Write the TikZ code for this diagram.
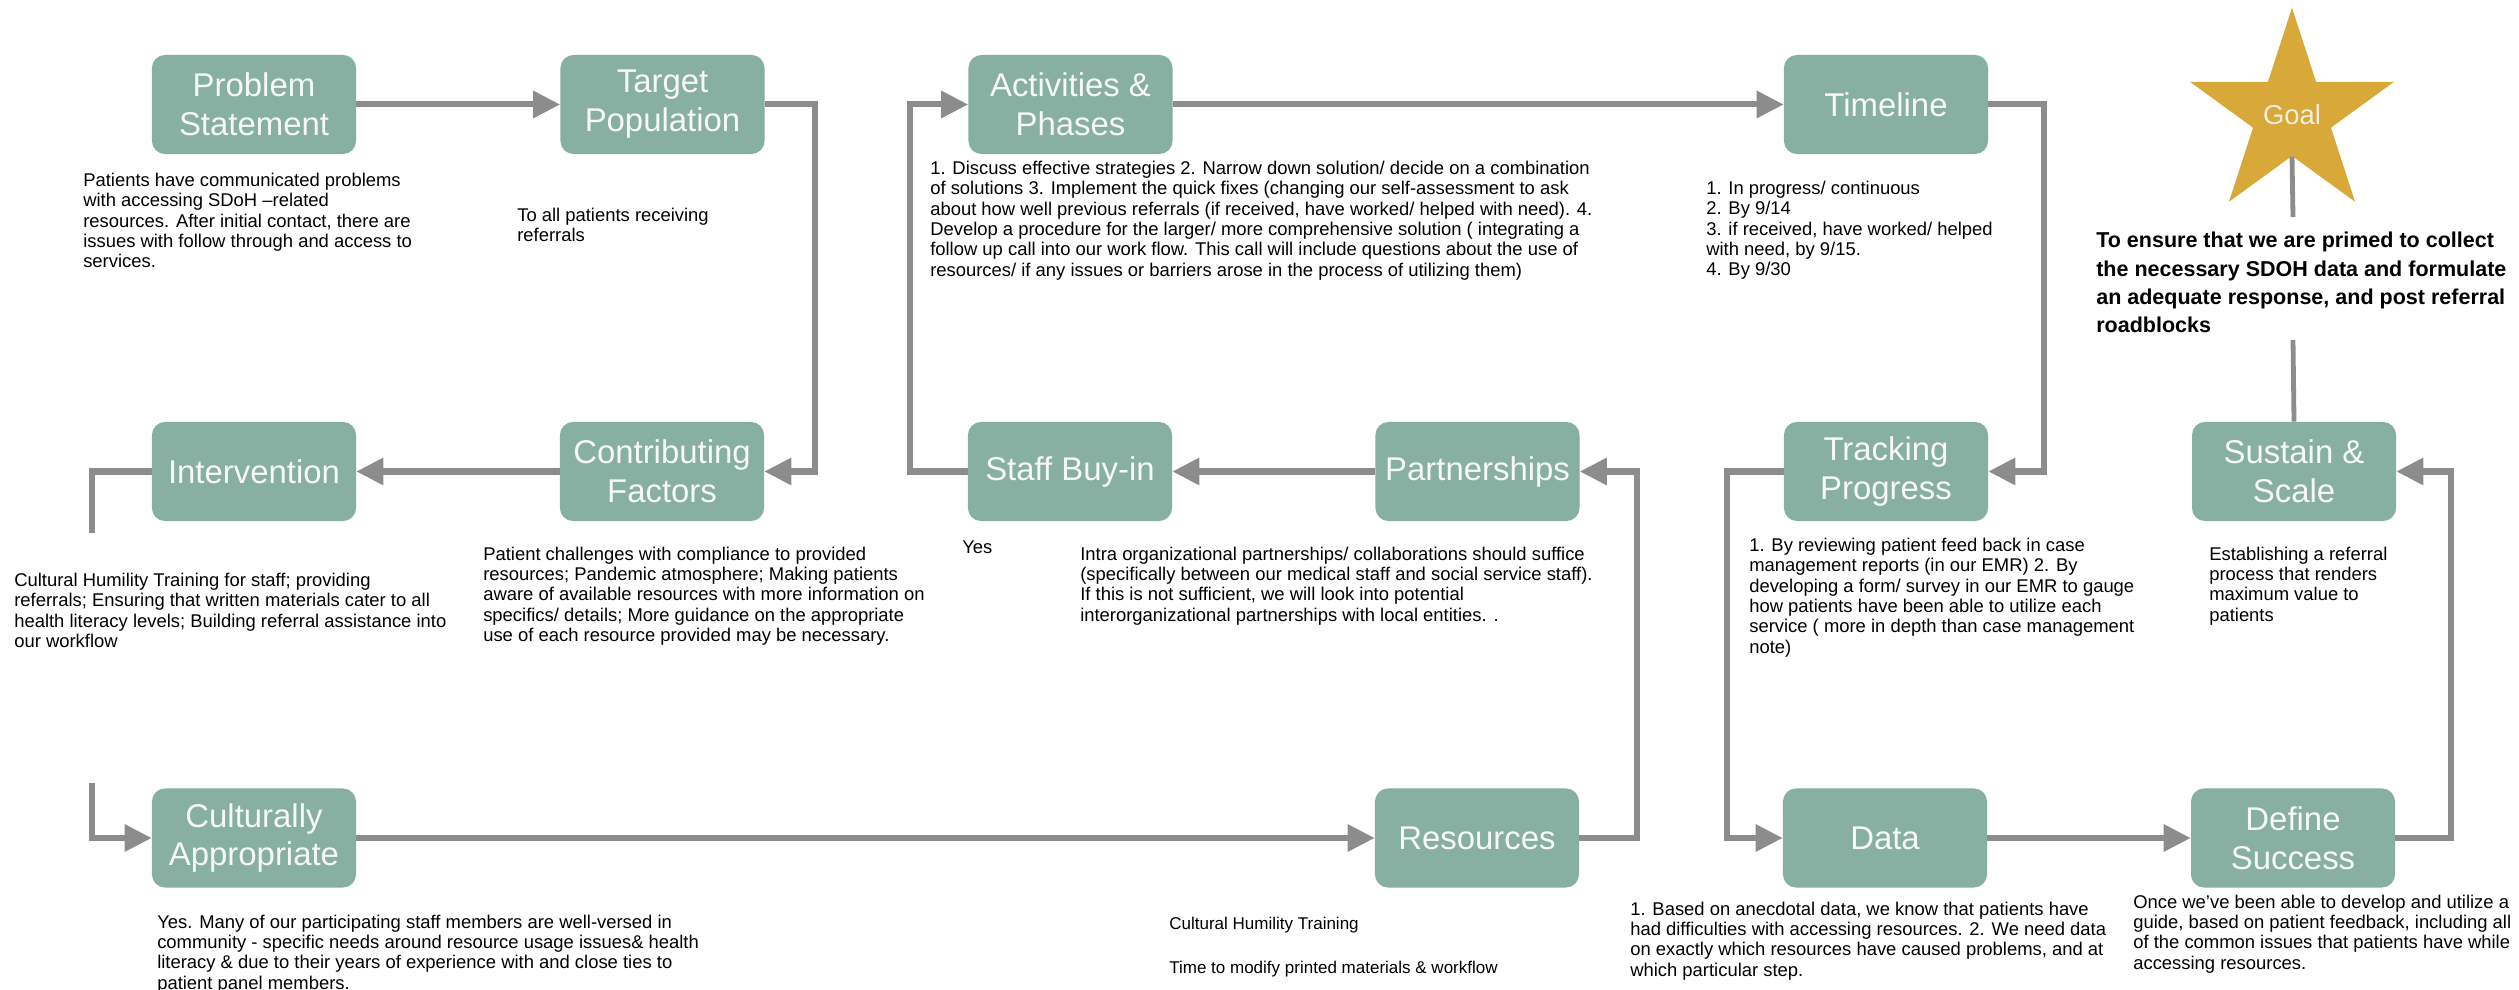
\documentclass[tikz,border=0pt]{standalone}
\usepackage{fontspec}
\setmainfont{Liberation Sans}
\usetikzlibrary{arrows.meta,shapes.geometric}
\definecolor{boxteal}{HTML}{87AFA2}
\definecolor{flowgray}{HTML}{8C8C8C}
\definecolor{goalgold}{HTML}{D8A838}
\definecolor{titlewhite}{HTML}{F5F8F6}
\definecolor{goalwhite}{HTML}{F4EEDC}
\newcommand\bodysize{\fontsize{13.1pt}{14.44pt}\selectfont}
\newcommand\titlesize{\fontsize{23.4pt}{27.7pt}\selectfont}
\newcommand\goalsize{\fontsize{15.3pt}{20.1pt}\selectfont\bfseries}
\newcommand\notesize{\fontsize{12.1pt}{14pt}\selectfont}
\newcommand\starsize{\fontsize{19.5pt}{21pt}\selectfont}

\begin{document}
\begin{tikzpicture}[x=0.025cm,y=-0.025cm,
  stepbox/.style={rectangle, rounded corners=3.25mm, fill=boxteal, text=titlewhite,
    minimum width=51mm, minimum height=24.75mm, inner sep=0pt, align=center, font=\titlesize},
  note/.style={anchor=north west, inner sep=0pt, align=left, font=\bodysize, text=black},
  line/.style={anchor=base west, inner sep=0pt, font=\notesize, text=black},
  flow/.style={draw=flowgray, line width=1.5mm, -{Triangle[length=6.75mm,width=6.5mm]}},
  link/.style={draw=flowgray, line width=1.5mm},
  stem/.style={draw=flowgray, line width=1.2mm}]

% page frame
\path[use as bounding box, fill=white] (0,0) rectangle (2519,990);

% ---- steps, top row
\node[stepbox] (ps) at (254,104.5) {Problem\\Statement};
\node[stepbox] (tp) at (662.5,104.5) {Target\\Population};
\node[stepbox] (ap) at (1070.5,104.5) {Activities \&\\Phases};
\node[stepbox] (tl) at (1886,104.5) {Timeline};

% ---- steps, middle row
\node[stepbox] (iv) at (254,471.5) {Intervention};
\node[stepbox] (cf) at (662,471.5) {Contributing\\Factors};
\node[stepbox] (sb) at (1070,471.5) {Staff Buy-in};
\node[stepbox] (pa) at (1477.5,471.5) {Partnerships};
\node[stepbox] (tr) at (1886,471.5) {Tracking\\Progress};
\node[stepbox] (ss) at (2294,471.5) {Sustain \&\\Scale};

% ---- steps, bottom row
\node[stepbox] (ca) at (254,838) {Culturally\\Appropriate};
\node[stepbox] (re) at (1477,838) {Resources};
\node[stepbox] (da) at (1885,838) {Data};
\node[stepbox] (ds) at (2293,838) {Define\\Success};

% ---- goal star
\node[star, star points=5, star point ratio=2.618, minimum size=50.5mm, inner sep=0pt,
  fill=goalgold, text=goalwhite, font=\starsize] (goal) at (2292,115) {Goal};

% ---- free ends of the broken connectors
\coordinate (ivend) at (92,533);
\coordinate (castart) at (92,783);
\coordinate (g1) at (2293,217);
\coordinate (g2) at (2293,340);

% ---- connectors
\draw[flow] (ps.east) -- (tp.west);
\draw[flow] (tp.east) -- ++(50,0) |- (cf.east);
\draw[flow] (cf.west) -- (iv.east);
\draw[link] (iv.west) -| (ivend);
\draw[flow] (castart) |- (ca.west);
\draw[flow] (ca.east) -- (re.west);
\draw[flow] (re.east) -- ++(58,0) |- (pa.east);
\draw[flow] (pa.west) -- (sb.east);
\draw[flow] (sb.west) -- ++(-58,0) |- (ap.west);
\draw[flow] (ap.east) -- (tl.west);
\draw[flow] (tl.east) -- ++(56,0) |- (tr.east);
\draw[flow] (tr.west) -- ++(-57,0) |- (da.west);
\draw[flow] (da.east) -- (ds.west);
\draw[flow] (ds.east) -- ++(56,0) |- (ss.east);
\draw[stem] (goal.south) -- (g1);
\draw[stem] (g2) -- (ss.north);

% ---- notes
\node[note] (psn) at (83,173) {Patients have communicated problems\\with accessing SDoH –related\\resources. After initial contact, there are\\issues with follow through and access to\\services.};
\node[note] (tpn) at (517,208) {To all patients receiving\\referrals};
\node[note] (apn) at (930,161) {1. Discuss effective strategies 2. Narrow down solution/ decide on a combination\\of solutions 3. Implement the quick fixes (changing our self-assessment to ask\\about how well previous referrals (if received, have worked/ helped with need). 4.\\Develop a procedure for the larger/ more comprehensive solution ( integrating a\\follow up call into our work flow. This call will include questions about the use of\\resources/ if any issues or barriers arose in the process of utilizing them)};
\node[note] (tln) at (1706,181) {1. In progress/ continuous\\2. By 9/14\\3. if received, have worked/ helped\\with need, by 9/15.\\4. By 9/30};
\node[note, font=\goalsize] (goaln) at (2096,232) {To ensure that we are primed to collect\\the necessary SDOH data and formulate\\an adequate response, and post referral\\roadblocks};
\node[note] (ivn) at (14,573) {Cultural Humility Training for staff; providing\\referrals; Ensuring that written materials cater to all\\health literacy levels; Building referral assistance into\\our workflow};
\node[note] (cfn) at (483,546.5) {Patient challenges with compliance to provided\\resources; Pandemic atmosphere; Making patients\\aware of available resources with more information on\\specifics/ details; More guidance on the appropriate\\use of each resource provided may be necessary.};
\node[line, font=\bodysize] (sbn) at (962,553) {Yes};
\node[note] (pan) at (1080,546.5) {Intra organizational partnerships/ collaborations should suffice\\(specifically between our medical staff and social service staff).\\If this is not sufficient, we will look into potential\\interorganizational partnerships with local entities. .};
\node[note] (trn) at (1749,538) {1. By reviewing patient feed back in case\\management reports (in our EMR) 2. By\\developing a form/ survey in our EMR to gauge\\how patients have been able to utilize each\\service ( more in depth than case management\\note)};
\node[note] (ssn) at (2209,546.5) {Establishing a referral\\process that renders\\maximum value to\\patients};
\node[note] (can) at (157,914.5) {Yes. Many of our participating staff members are well-versed in\\community - specific needs around resource usage issues\& health\\literacy \& due to their years of experience with and close ties to\\patient panel members.};
\node[line] (ren1) at (1169,929) {Cultural Humility Training};
\node[line] (ren2) at (1169,973) {Time to modify printed materials \& workflow};
\node[note] (dan) at (1630,901.5) {1. Based on anecdotal data, we know that patients have\\had difficulties with accessing resources. 2. We need data\\on exactly which resources have caused problems, and at\\which particular step.};
\node[note] (dsn) at (2133,894.5) {Once we've been able to develop and utilize a\\guide, based on patient feedback, including all\\of the common issues that patients have while\\accessing resources.};
\end{tikzpicture}
\end{document}
